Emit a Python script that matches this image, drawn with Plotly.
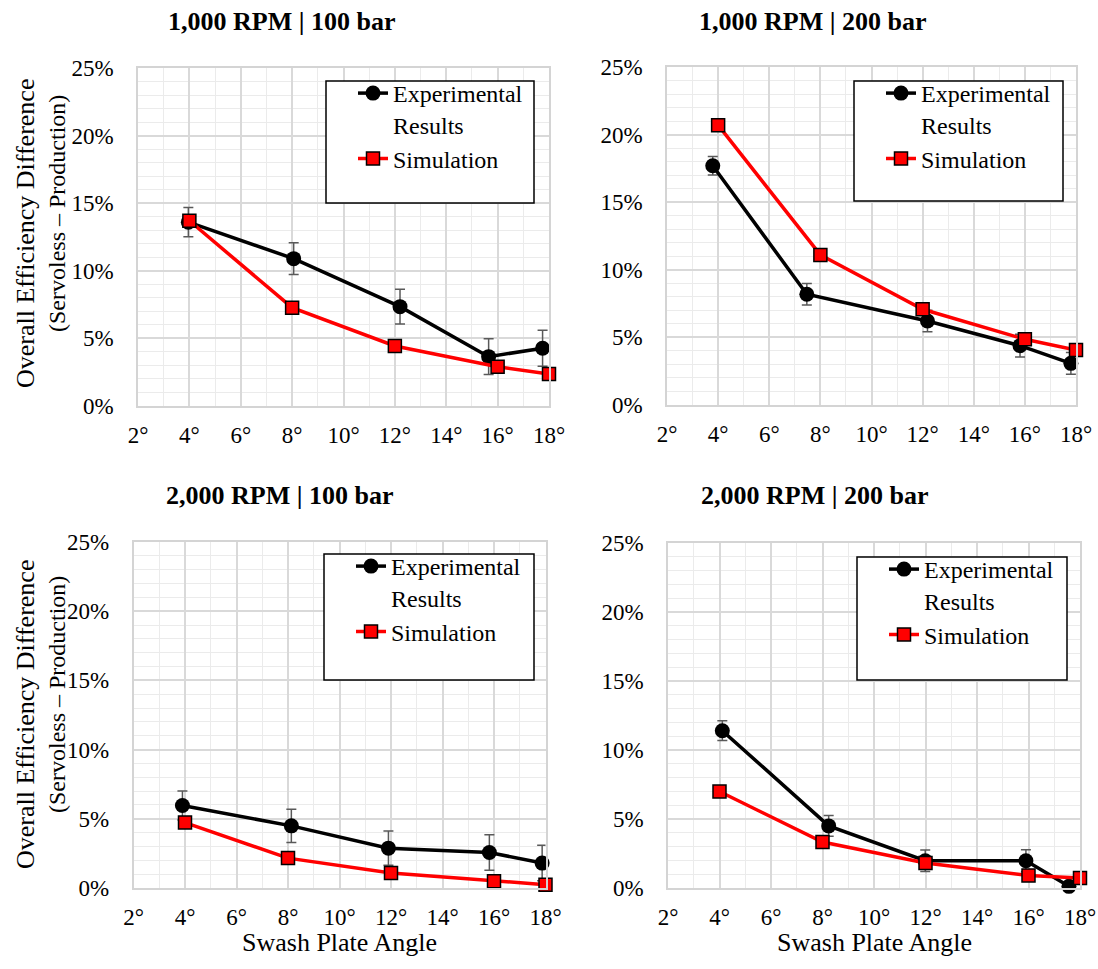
import plotly.graph_objects as go

W, H = 1098, 969
FONT = "Liberation Serif"

# ---------------- data ----------------
titles = ["1,000 RPM | 100 bar", "1,000 RPM | 200 bar", "2,000 RPM | 100 bar", "2,000 RPM | 200 bar"]
tick_angles = [2, 4, 6, 8, 10, 12, 14, 16, 18]
tick_angle_labels = ["2°", "4°", "6°", "8°", "10°", "12°", "14°", "16°", "18°"]
tick_pcts = [0, 5, 10, 15, 20, 25]
tick_pct_labels = ["0%", "5%", "10%", "15%", "20%", "25%"]

exp_x_tl = [3.96, 8.06, 12.2, 15.65, 17.75]
exp_y_tl = [13.6, 10.9, 7.35, 3.65, 4.27]
exp_e_tl = [1.09, 1.17, 1.29, 1.32, 1.33]
sim_x_tl = [4, 8, 12, 16, 18]
sim_y_tl = [13.7, 7.27, 4.44, 2.9, 2.37]

exp_x_tr = [3.79, 7.47, 12.19, 15.81, 17.8]
exp_y_tr = [17.7, 8.19, 6.21, 4.39, 3.08]
exp_e_tr = [0.68, 0.8, 0.8, 0.84, 0.8]
sim_x_tr = [4, 8, 12, 16, 18]
sim_y_tr = [20.7, 11.1, 7.08, 4.86, 4.07]

exp_x_bl = [3.9, 8.13, 11.9, 15.82, 17.87]
exp_y_bl = [5.96, 4.49, 2.88, 2.57, 1.8]
exp_e_bl = [1.05, 1.2, 1.23, 1.28, 1.28]
sim_x_bl = [4, 8, 12, 16, 18]
sim_y_bl = [4.73, 2.16, 1.08, 0.48, 0.24]

exp_x_br = [4.11, 8.24, 11.99, 15.9, 17.57]
exp_y_br = [11.4, 4.5, 1.98, 1.98, 0.12]
exp_e_br = [0.72, 0.75, 0.78, 0.8, 0.25]
sim_x_br = [4, 8, 12, 16, 18]
sim_y_br = [6.99, 3.33, 1.81, 0.91, 0.72]

panels = [
    (exp_x_tl, exp_y_tl, exp_e_tl, sim_x_tl, sim_y_tl),
    (exp_x_tr, exp_y_tr, exp_e_tr, sim_x_tr, sim_y_tr),
    (exp_x_bl, exp_y_bl, exp_e_bl, sim_x_bl, sim_y_bl),
    (exp_x_br, exp_y_br, exp_e_br, sim_x_br, sim_y_br),
]

# ---------------- layout geometry (pixels) ----------------
def px(x):
    return x / W

def py(y):
    return 1 - y / H

# plot areas: (left, right, top, bottom)
areas = [(138, 549, 68, 406), (667, 1076, 67, 405), (133.5, 545.5, 542, 888), (668, 1080, 543, 888)]
legend_boxes = [(326, 534, 81, 203), (854, 1063, 81, 201), (324, 534, 554, 680), (857, 1067, 557, 680)]
title_pos = [(281, 21), (812, 21), (279, 495), (814, 495)]

fig = go.Figure()
layout = dict(
    width=W, height=H,
    margin=dict(l=0, r=0, t=0, b=0, pad=0, autoexpand=False),
    paper_bgcolor="white", plot_bgcolor="white",
    font=dict(family=FONT, size=23, color="black"),
    showlegend=True,
)

annotations = []
shapes = []

for i, (ex, ey, ee, sx, sy) in enumerate(panels):
    n = "" if i == 0 else str(i + 1)
    leg = "legend" + n
    l, r, t, b = areas[i]
    fig.add_trace(go.Scatter(
        x=ex, y=ey, mode="lines+markers", name="Experimental<br>Results",
        line=dict(color="black", width=3.5),
        marker=dict(symbol="circle", size=15, color="black"),
        error_y=dict(type="data", array=ee, visible=True, color="#595959", thickness=1.5, width=5),
        xaxis="x" + n, yaxis="y" + n, legend=leg, cliponaxis=False,
    ))
    fig.add_trace(go.Scatter(
        x=sx, y=sy, mode="lines+markers", name="Simulation",
        line=dict(color="#ff0000", width=3.5),
        marker=dict(symbol="square", size=13, color="#ff0000", line=dict(color="black", width=1.5)),
        xaxis="x" + n, yaxis="y" + n, legend=leg, cliponaxis=False,
    ))
    layout["xaxis" + n] = dict(
        domain=[px(l), px(r)], anchor="y" + n, range=[2, 18], automargin=False,
        tickmode="array", tickvals=tick_angles, ticktext=tick_angle_labels, ticks="", ticklabelstandoff=8,
        showgrid=True, gridcolor="#d9d9d9", gridwidth=1.5,
        minor=dict(dtick=1, showgrid=True, gridcolor="#ebebeb", gridwidth=1),
        zeroline=False, showline=True, linecolor="#d4d4d4", linewidth=1.5, mirror=True,
        tickfont=dict(size=23, family=FONT), fixedrange=True,
    )
    layout["yaxis" + n] = dict(
        domain=[py(b), py(t)], anchor="x" + n, range=[0, 25], automargin=False,
        tickmode="array", tickvals=tick_pcts, ticktext=tick_pct_labels, ticks="", ticklabelstandoff=18,
        showgrid=True, gridcolor="#d9d9d9", gridwidth=1.5,
        minor=dict(dtick=1, showgrid=True, gridcolor="#ebebeb", gridwidth=1),
        zeroline=False, showline=True, linecolor="#d4d4d4", linewidth=1.5, mirror=True,
        tickfont=dict(size=23, family=FONT), fixedrange=True,
    )
    bl, br, bt, bb = legend_boxes[i]
    shapes.append(dict(type="rect", xref="paper", yref="paper",
                       x0=px(bl), x1=px(br), y0=py(bb), y1=py(bt),
                       line=dict(color="black", width=1.5), fillcolor="white", layer="above"))
    layout[leg] = dict(
        x=px(bl + 27), y=py(bt - 10), xanchor="left", yanchor="top",
        bgcolor="rgba(0,0,0,0)", borderwidth=0, font=dict(size=24, family=FONT),
        valign="top", tracegroupgap=0, itemclick=False, itemdoubleclick=False,
    )
    tx, ty = title_pos[i]
    annotations.append(dict(text="<b>" + titles[i] + "</b>", x=px(tx), y=py(ty), xref="paper", yref="paper",
                            showarrow=False, xanchor="center", yanchor="middle",
                            font=dict(size=26, family=FONT)))

# axis titles
for cy1, cy2 in [(234, 214), (715, 695)]:
    annotations.append(dict(text="Overall Efficiency Difference", x=px(25), y=py(cy1), xref="paper", yref="paper",
                            showarrow=False, textangle=-90, xanchor="center", yanchor="middle",
                            font=dict(size=26, family=FONT)))
    annotations.append(dict(text="(Servoless – Production)", x=px(57), y=py(cy2), xref="paper", yref="paper",
                            showarrow=False, textangle=-90, xanchor="center", yanchor="middle",
                            font=dict(size=24, family=FONT)))
for cx in [340, 874]:
    annotations.append(dict(text="Swash Plate Angle", x=px(cx), y=py(942), xref="paper", yref="paper",
                            showarrow=False, xanchor="center", yanchor="middle",
                            font=dict(size=26, family=FONT)))

layout["annotations"] = annotations
layout["shapes"] = shapes
fig.update_layout(**layout)
fig.write_html(
    "out.html",
    config={"displayModeBar": False},
    post_script="document.body.style.margin='0';document.body.style.overflow='hidden';",
)
